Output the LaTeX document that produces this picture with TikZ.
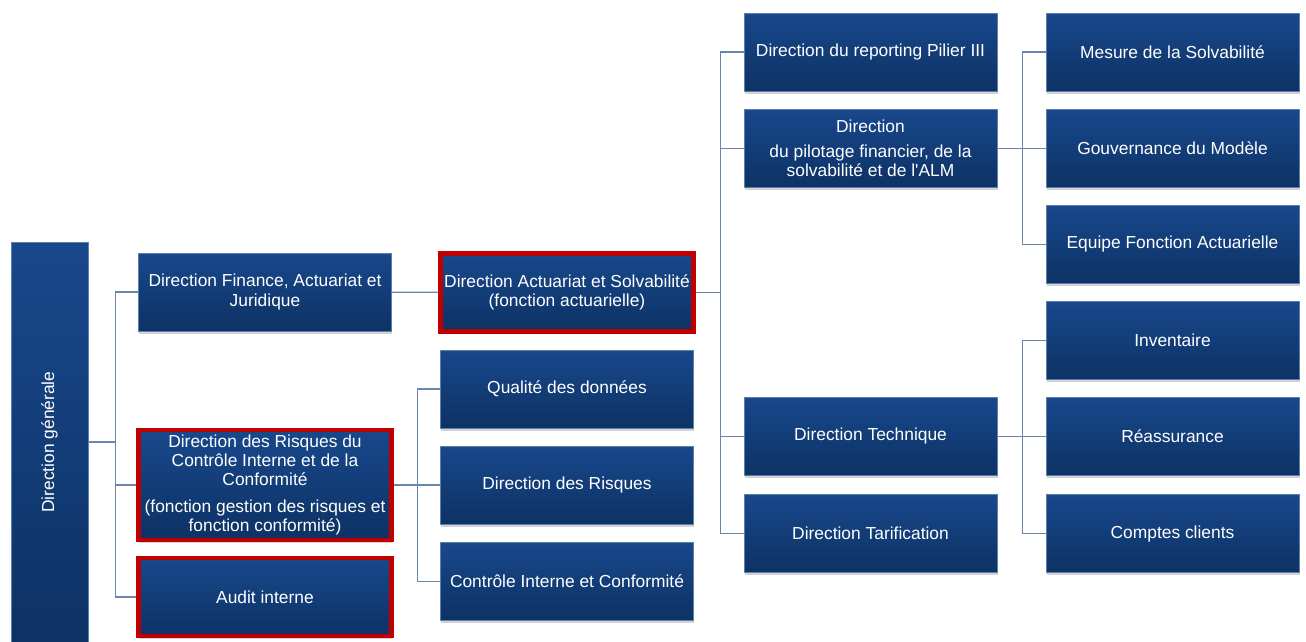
\documentclass[tikz,border=0pt]{standalone}
\usepackage{fontspec}
\setmainfont{Liberation Sans}
\usepackage{tikz}
\usetikzlibrary{positioning,calc,shadows}
\definecolor{OBtop}{RGB}{24,72,140}
\definecolor{OBbot}{RGB}{13,50,100}
\definecolor{OBline}{RGB}{106,134,176}
\definecolor{OBred}{RGB}{192,0,0}
\tikzset{
  unit/.style={rectangle,top color=OBtop,bottom color=OBbot,draw=OBtop!70!white,
               line width=0.4pt,text=white,align=center,inner sep=1pt,
               font=\fontsize{9.9}{11}\selectfont,
               minimum width=5.06cm,minimum height=1.56cm,
               drop shadow={shadow xshift=0.5pt,shadow yshift=-1.5pt,opacity=0.35}},
  key/.style={draw=OBred,line width=2.4pt},
  link/.style={draw=OBline,line width=0.8pt}
}
\begin{document}
\begin{tikzpicture}[x=0.02cm,y=-0.02cm]
  \useasboundingbox (0,0) rectangle (1306,642);
  % direction generale
  \node[unit,minimum width=1.54cm,minimum height=8cm] (dg) at (49.5,442) {};
  \node[text=white,rotate=90,font=\fontsize{9.9}{11}\selectfont] (dgtxt) at (dg.center) {Direction générale};
  % second level
  \node[unit] (fin) at (265,292) {Direction Finance, Actuariat et\\Juridique};
  \node[unit,key,minimum height=2.2cm] (rcc) at (265,485) {Direction des Risques du\\Contrôle Interne et de la\\Conformité\\[4pt](fonction gestion des risques et\\fonction conformité)};
  \node[unit,key] (audit) at (265,597) {Audit interne};
  % third level
  \node[unit,key] (act) at (567,292.5) {Direction Actuariat et Solvabilité\\(fonction actuarielle)};
  \node[unit] (qual) at (567,389) {Qualité des données};
  \node[unit] (drisk) at (567,485) {Direction des Risques};
  \node[unit] (cic) at (567,581.5) {Contrôle Interne et Conformité};
  % fourth level
  \node[unit] (rep) at (870.5,52) {Direction du reporting Pilier III};
  \node[unit] (pil) at (870.5,148.5) {Direction\\[3pt]du pilotage financier, de la\\solvabilité et de l\textquotesingle ALM};
  \node[unit] (tech) at (870.5,436.5) {Direction Technique};
  \node[unit] (tarif) at (870.5,533.5) {Direction Tarification};
  % fifth level
  \node[unit] (mes) at (1172.5,52) {Mesure de la Solvabilité};
  \node[unit] (gouv) at (1172.5,148.5) {Gouvernance du Modèle};
  \node[unit] (equ) at (1172.5,244.5) {Equipe Fonction Actuarielle};
  \node[unit] (inv) at (1172.5,340.5) {Inventaire};
  \node[unit] (reas) at (1172.5,436.5) {Réassurance};
  \node[unit] (cpt) at (1172.5,533.5) {Comptes clients};

  \draw[link] (dg.east) -- ++(27,0) |- (fin.west);
  \draw[link] (dg.east) -- ++(27,0) |- (rcc.west);
  \draw[link] (dg.east) -- ++(27,0) |- (audit.west);
  \draw[link] (fin) -- (act);
  \draw[link] (rcc.east) -- ++(24,0) |- (qual.west);
  \draw[link] (rcc.east) -- ++(24,0) |- (drisk.west);
  \draw[link] (rcc.east) -- ++(24,0) |- (cic.west);
  \draw[link] (act.east) -- ++(25,0) |- (rep.west);
  \draw[link] (act.east) -- ++(25,0) |- (pil.west);
  \draw[link] (act.east) -- ++(25,0) |- (tech.west);
  \draw[link] (act.east) -- ++(25,0) |- (tarif.west);
  \draw[link] (pil.east) -- ++(25,0) |- (mes.west);
  \draw[link] (pil) -- (gouv);
  \draw[link] (pil.east) -- ++(25,0) |- (equ.west);
  \draw[link] (tech.east) -- ++(25,0) |- (inv.west);
  \draw[link] (tech) -- (reas);
  \draw[link] (tech.east) -- ++(25,0) |- (cpt.west);
\end{tikzpicture}
\end{document}
